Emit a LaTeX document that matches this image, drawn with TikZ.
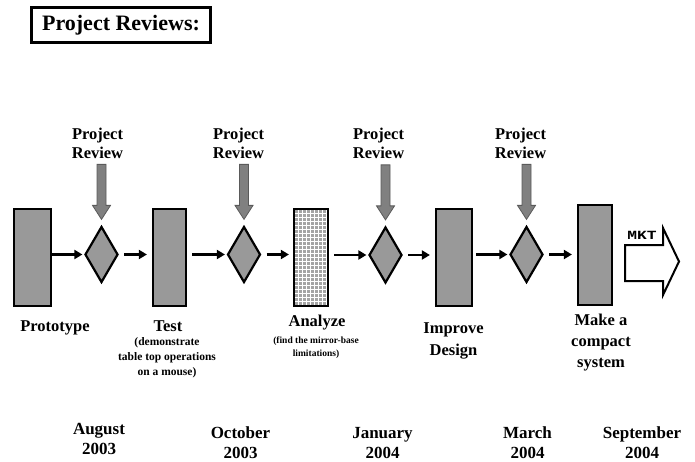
\documentclass[tikz,border=0pt]{standalone}
\usepackage{fontspec}
\setmainfont{Liberation Serif}
\newfontfamily\mktfont{Liberation Mono}
\usetikzlibrary{shapes.geometric,arrows.meta,calc}

\definecolor{stagegray}{HTML}{999999}
\definecolor{reviewgray}{HTML}{808080}
\definecolor{reviewedge}{HTML}{5A5A5A}
\definecolor{dotgray}{HTML}{A4A4A4}

% block arrow pointing down onto a review gate
\newcommand\revarrow[1]{%
  \draw[review] ($(#1.north)+(0,-6)$) -- ++(9,-14) -- ++(-4.5,0) -- ++(0,-41)
    -- ++(-9,0) -- ++(0,41) -- ++(-4.5,0) -- cycle;}

\begin{document}
\begin{tikzpicture}[x=1pt,y=-1pt,
  stage/.style={draw=black,line width=2.2pt,fill=stagegray,inner sep=0pt,minimum height=97pt},
  gate/.style={diamond,draw=black,line width=2.2pt,fill=stagegray,inner sep=0pt,
    minimum width=33pt,minimum height=56pt},
  flow/.style={line width=2.2pt,-{Triangle[length=8pt,width=9pt]},shorten <=5pt,shorten >=1.5pt},
  review/.style={fill=reviewgray,draw=reviewedge,line width=0.8pt},
  big/.style={font=\fontsize{16.5}{19}\selectfont\bfseries,align=center,inner sep=0pt,anchor=base},
  small/.style={font=\fontsize{11.5}{15}\selectfont\bfseries,align=center,inner sep=0pt,anchor=base},
  date/.style={font=\fontsize{17}{20.5}\selectfont\bfseries,align=center,inner sep=0pt,anchor=base},
  mkt/.style={draw=black,fill=white,line width=2pt,line join=miter}
]
\useasboundingbox (0,0) rectangle (695,462);

% heading
\node[draw=black,line width=2.8pt,minimum width=179pt,minimum height=35pt,inner sep=0pt,
  font=\fontsize{22}{26}\selectfont\bfseries] (title) at (121,25) {Project Reviews:};

% development stages
\node[stage,minimum width=37pt] (r1) at (32.5,257.5) {};
\node[stage,minimum width=33pt] (r2) at (169.5,257.5) {};
\node[stage,minimum width=34pt,fill=white,
  path picture={\foreach \i in {0,...,8} \foreach \j in {0,...,24}
    \fill[dotgray] ($(path picture bounding box.north west)+(1.2+\i*4,1.2+\j*4)$) rectangle ++(2.6,2.6);}]
  (r3) at (311,257.5) {};
\node[stage,minimum width=36pt] (r4) at (454,257.5) {};
\node[stage,minimum width=34pt,minimum height=100pt] (r5) at (595,255) {};

% review gates
\node[gate] (d1) at (101.5,254.5) {};
\node[gate] (d2) at (244,254.5) {};
\node[gate] (d3) at (385.5,255) {};
\node[gate] (d4) at (526.5,254.5) {};

% flow between stages and gates
\draw[flow,shorten <=0pt] (r1.east |- d1.west) -- (d1.west);
\draw[flow,shorten >=5pt] (d1.east) -- (r2.west |- d1.east);
\draw[flow] (r2.east |- d2.west) -- (d2.west);
\draw[flow,shorten >=4pt] (d2.east) -- (r3.west |- d2.east);
\draw[flow] (r3.east |- d3.west) -- (d3.west);
\draw[flow,shorten >=5pt] (d3.east) -- (r4.west |- d3.east);
\draw[flow,shorten <=3pt] (r4.east |- d4.west) -- (d4.west);
\draw[flow,shorten >=5pt] (d4.east) -- (r5.west |- d4.east);

% project review labels and arrows (base anchor sits on the last line)
\node[big] (p1) at (97.5,159) {Project\\Review};
\node[big] (p2) at (238.5,159) {Project\\Review};
\node[big] (p3) at (378.5,159) {Project\\Review};
\node[big] (p4) at (520.5,159) {Project\\Review};
\revarrow{d1}
\revarrow{d2}
\revarrow{d3}
\revarrow{d4}

% market arrow
\draw[mkt] (625,245) -- (663,245) -- (663,228) -- (679,261.5) -- (663,295)
  -- (663,281) -- (625,281) -- cycle;
\node[inner sep=0pt,anchor=base,font=\mktfont\fontsize{12.5}{14}\selectfont\bfseries] (mkt) at (642,239.5)
  {\scalebox{1.3}[1]{MKT}};

% stage labels
\node[big] (l1) at (55,331.5) {Prototype};
\node[big] (l2) at (168,331.5) {Test};
\node[small] (l2s) at (167,375.5) {(demonstrate\\table top operations\\on a mouse)};
\node[big] (l3) at (317,326.5) {Analyze};
\node[small,font=\fontsize{9.5}{12.5}\selectfont\bfseries] (l3s) at (316,356) {(find the mirror-base\\limitations)};
\node[big,font=\fontsize{16.5}{22.5}\selectfont\bfseries] (l4) at (453.5,355.5) {Improve\\Design};
\node[big,font=\fontsize{16.5}{20.7}\selectfont\bfseries] (l5) at (601,367) {Make a\\compact\\system};

% timeline
\node[date] (t1) at (99,454.5) {August\\2003};
\node[date] (t2) at (240.5,458.5) {October\\2003};
\node[date] (t3) at (382.5,458.5) {January\\2004};
\node[date] (t4) at (527.5,458.5) {March\\2004};
\node[date] (t5) at (642,458.5) {September\\2004};
\end{tikzpicture}
\end{document}
